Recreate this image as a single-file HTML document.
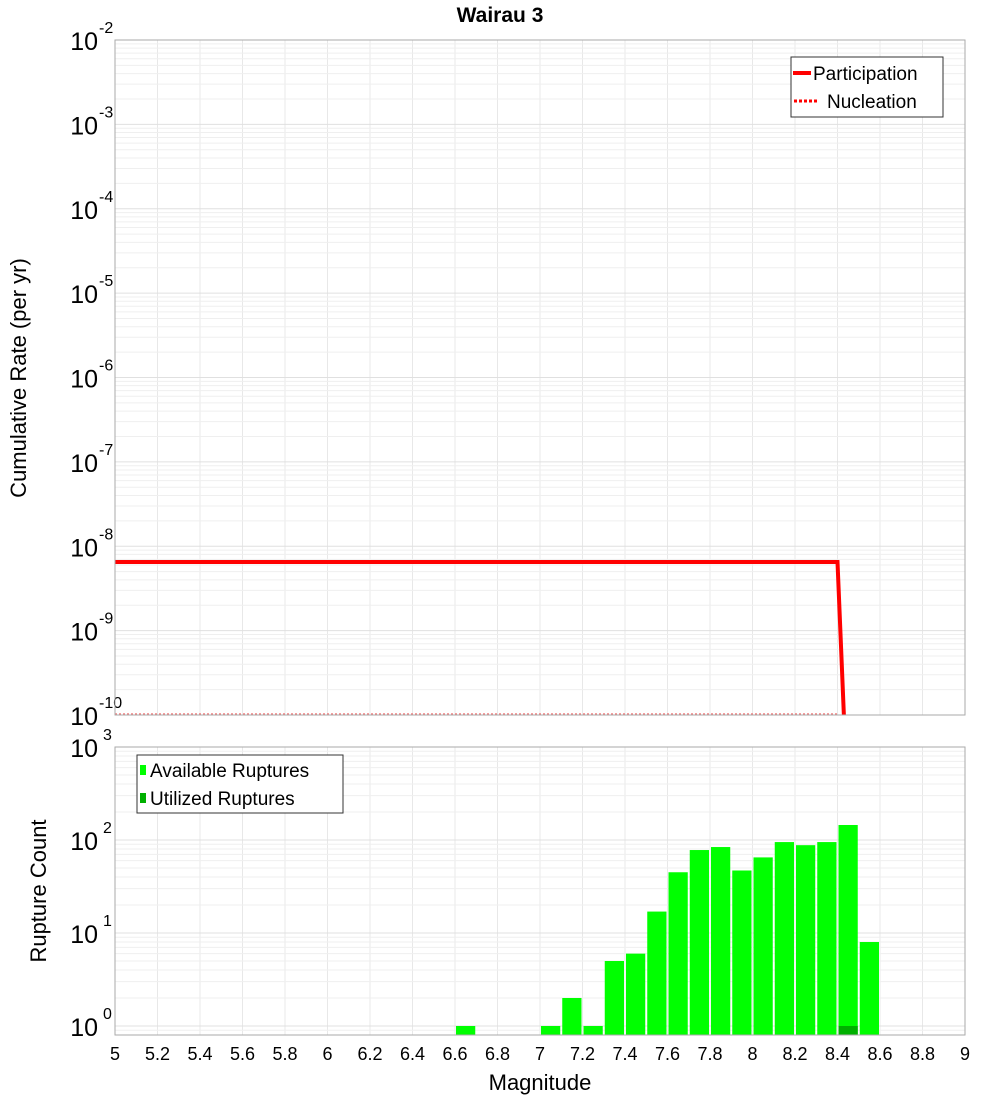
<!DOCTYPE html>
<html><head><meta charset="utf-8"><style>
body{margin:0;background:#fff;}
svg text{font-family:"Liberation Sans","DejaVu Sans",sans-serif;}
</style></head><body>
<svg id="c" width="1000" height="1100" xmlns="http://www.w3.org/2000/svg"></svg>
<script>
const xTicks=[5,5.2,5.4,5.6,5.8,6,6.2,6.4,6.6,6.8,7,7.2,7.4,7.6,7.8,8,8.2,8.4,8.6,8.8,9];
const partMags=[5,8.4,8.43];
const partRates=[6.5e-9,6.5e-9,1e-10];
const nuclMags=[5,8.4];
const nuclRates=[1e-10,1e-10];
const binCenters=[6.65,7.05,7.15,7.25,7.35,7.45,7.55,7.65,7.75,7.85,7.95,8.05,8.15,8.25,8.35,8.45,8.55];
const availCounts=[1,1,2,1,5,6,17,45,78,84,47,65,95,88,95,145,8];
const utilCounts=[0,0,0,0,0,0,0,0,0,0,0,0,0,0,0,1,0];
const topExps=[-10,-9,-8,-7,-6,-5,-4,-3,-2];
const botExps=[0,1,2,3];

const NS="http://www.w3.org/2000/svg";
const svg=document.getElementById('c');
function el(t,a,p){const e=document.createElementNS(NS,t);for(const k in a)e.setAttribute(k,a[k]);(p||svg).appendChild(e);return e;}
const X0=115,X1=965;
const xs=m=>X0+(m-5)/4*(X1-X0);
const T0=40,T1=715;
const yTop=v=>T1-(Math.log10(v)+10)/8*(T1-T0);
const B0=747,B1=1035,Bone=1026;
const bpd=(Bone-B0)/3;
const yBot=v=>Bone-Math.log10(v)*bpd;

let t=el('text',{x:500,y:22,'text-anchor':'middle','font-size':21,'font-weight':'bold'});t.textContent='Wairau 3';


function grid(y0,y1,yf,exps,minBelow){
  const g=el('g',{});
  
  xTicks.forEach(m=>el('line',{x1:xs(m),x2:xs(m),y1:y0,y2:y1,stroke:'#e8e8e8'},g));
  for(let i=0;i<exps.length;i++){const e=exps[i];
    for(let k=1;k<10;k++){const v=k*Math.pow(10,e);const y=yf(v);if(y<y0-0.5||y>y1+0.5)continue;
      el('line',{x1:X0,x2:X1,y1:y,y2:y,stroke:k==1?'#e0e0e0':'#efefef'},g);}
    if(minBelow&&i==0){for(let k=8;k<10;k++){const y=yf(k*Math.pow(10,e-1));if(y<=y1)el('line',{x1:X0,x2:X1,y1:y,y2:y,stroke:'#efefef'},g);}}
  }
}
grid(T0,T1,yTop,topExps,false);
grid(B0,B1,yBot,botExps,true);

// top axis labels
topExps.forEach(e=>{const y=yTop(Math.pow(10,e));
  const tx=el('text',{x:98,y:y+10,'text-anchor':'end','font-size':25});tx.textContent='10';
  
  const s=el('text',{x:99,y:y-7,'font-size':16});s.textContent=String(e);
  });
botExps.forEach(e=>{const y=yBot(Math.pow(10,e));
  const tx=el('text',{x:98,y:y+10,'text-anchor':'end','font-size':25});tx.textContent='10';
  
  const s=el('text',{x:103,y:y-7,'font-size':16});s.textContent=String(e);
  });

// nucleation line
let nl=el('polyline',{points:nuclMags.map((m,i)=>xs(m)+','+(yTop(nuclRates[i])-1)).join(' '),fill:'none',stroke:'#f08080','stroke-width':1.5,'stroke-dasharray':'2,2'});

let pl=el('polyline',{points:partMags.map((m,i)=>xs(m)+','+yTop(partRates[i])).join(' '),fill:'none',stroke:'#ff0000','stroke-width':4});


// bars
binCenters.forEach((c,i)=>{
  const x=xs(c-0.05)+1,w=xs(c+0.05)-xs(c-0.05)-2;
  const y=yBot(availCounts[i]);
  const b=el('rect',{x:x,y:y,width:w,height:B1-y,fill:'#00ff00'});
  
  if(utilCounts[i]>0){const yu=yBot(utilCounts[i]);
    const u=el('rect',{x:x,y:yu,width:w,height:B1-yu,fill:'#00b000'});
    }
});

// frames
let f1=el('rect',{x:X0,y:T0,width:X1-X0,height:T1-T0,fill:'none',stroke:'#aaa'});

let f2=el('rect',{x:X0,y:B0,width:X1-X0,height:B1-B0,fill:'none',stroke:'#aaa'});


// x tick labels
xTicks.forEach(m=>{const tx=el('text',{x:xs(m),y:1060,'text-anchor':'middle','font-size':18});
  tx.textContent=String(m);
  });
t=el('text',{x:540,y:1090,'text-anchor':'middle','font-size':22});t.textContent='Magnitude';

t=el('text',{x:0,y:0,'text-anchor':'middle','font-size':22,transform:'translate(26,378) rotate(-90)'});t.textContent='Cumulative Rate (per yr)';

t=el('text',{x:0,y:0,'text-anchor':'middle','font-size':22,transform:'translate(46,891) rotate(-90)'});t.textContent='Rupture Count';


// legends
let lg=el('g',{});
el('rect',{x:791,y:57,width:152,height:60,fill:'#fff',stroke:'#333'},lg);
el('line',{x1:793,x2:811,y1:73,y2:73,stroke:'#f00','stroke-width':4},lg);
t=el('text',{x:813,y:80,'font-size':19},lg);t.textContent='Participation';
el('line',{x1:794,x2:819,y1:101,y2:101,stroke:'#f00','stroke-width':3,'stroke-dasharray':'3,2'},lg);
t=el('text',{x:827,y:108,'font-size':19},lg);t.textContent='Nucleation';
lg=el('g',{});
el('rect',{x:137,y:755,width:206,height:58,fill:'#fff',stroke:'#333'},lg);
el('rect',{x:140,y:765,width:6,height:10,fill:'#00ff00'},lg);
t=el('text',{x:150,y:777,'font-size':19},lg);t.textContent='Available Ruptures';
el('rect',{x:140,y:793,width:6,height:10,fill:'#00b000'},lg);
t=el('text',{x:150,y:805,'font-size':19},lg);t.textContent='Utilized Ruptures';
</script>
</body></html>
